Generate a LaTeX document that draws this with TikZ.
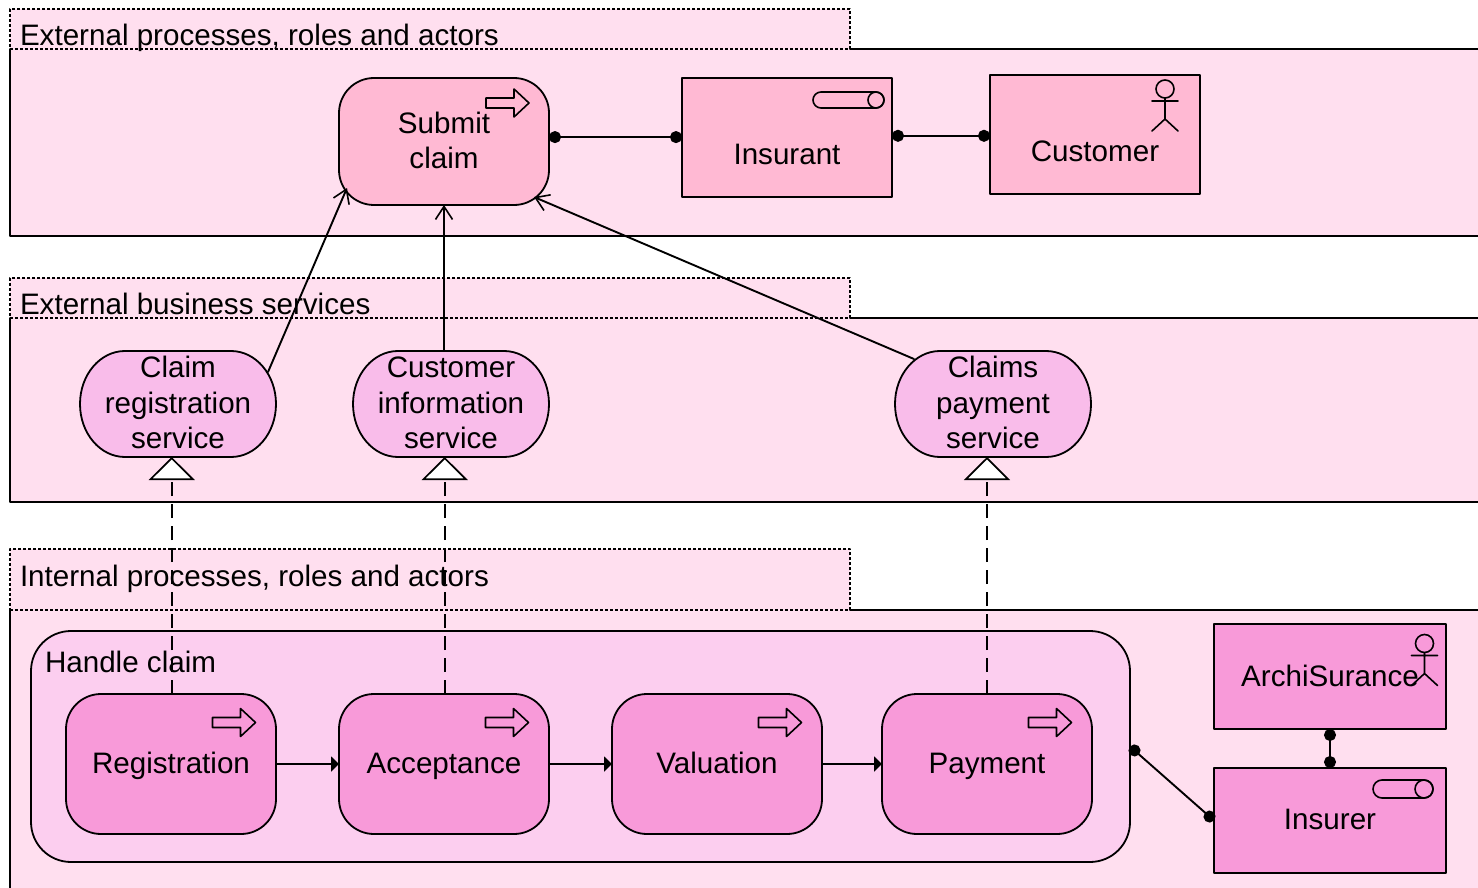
\documentclass[tikz,border=0pt]{standalone}
\usepackage{fontspec}
\setmainfont{Liberation Sans}
\usetikzlibrary{arrows.meta}
\definecolor{layerpink}{HTML}{FFDFEF}
\definecolor{extpink}{HTML}{FFB9D3}
\definecolor{svcpink}{HTML}{F9BCEA}
\definecolor{groupink}{HTML}{FCCEEF}
\definecolor{intpink}{HTML}{F89AD9}
\tikzset{
    txt/.style={inner sep=0pt,outer sep=0pt,align=center,font=\fontsize{29.6}{35.5}\selectfont},
    oneline/.style={text height=26pt,text depth=8pt},
    layerbox/.style={fill=layerpink,inner sep=0pt,outer sep=0pt,minimum width=1470pt},
    tabbox/.style={fill=layerpink,draw=black,line width=1.5pt,dash pattern=on 3pt off 2pt,line cap=butt,inner sep=0pt,outer sep=0pt,minimum width=840pt},
    proc/.style={txt,draw=black,line width=1.8pt,rounded corners=35pt,minimum width=210pt},
    svc/.style={inner sep=0pt,outer sep=0pt,minimum width=196pt,minimum height=106pt},
    rolebox/.style={draw=black,line width=1.8pt,inner sep=0pt,outer sep=0pt},
    edge/.style={draw=black,line width=1.9pt},
    icon/.style={draw=black,line width=1.6pt},
    assign/.style={edge,{Circle[length=12pt,width=12pt]}-{Circle[length=12pt,width=12pt]}},
    used/.style={edge,-{Straight Barb[length=13pt,width=17pt,line width=1.6pt]}},
    trigger/.style={edge,-{Triangle[length=8pt,width=15pt]}},
    realise/.style={line width=1.7pt,draw=black,line cap=butt,dash pattern=on 14pt off 8pt,
        -{Triangle[open,fill=white,length=23pt,width=46pt,line width=1.7pt]}},
}
\newcommand{\procarrow}[1]{\draw[icon,shift={(#1)}] (-43,-5) -- (-15,-5) -- (-15,-14) -- (0,0) -- (-15,14) -- (-15,5) -- (-43,5) -- cycle;}
\newcommand{\roleicon}[4]{\draw[icon] (#2-#4,#3-#4) -- (#1+#4,#3-#4) arc (90:270:#4pt) -- (#2-#4,#3+#4) arc (-90:90:#4pt);
    \draw[icon] (#2-#4,#3) circle (#4pt);}
\newcommand{\actoricon}[1]{\draw[icon,shift={(#1)}] (0,0) circle (9pt) (0,9) -- (0,30) (-13,12) -- (13,12) (-13,42) -- (0,30) -- (13,42);}
\newcommand{\svcoutline}[1]{\draw[draw=black,fill=svcpink,line width=1.8pt] ([xshift=45pt]#1.north west) -- ([xshift=-45pt]#1.north east)
    arc [start angle=90,end angle=-90,x radius=45pt,y radius=53pt] -- ([xshift=45pt]#1.south west)
    arc [start angle=-90,end angle=-270,x radius=45pt,y radius=53pt] -- cycle;}
\begin{document}
\begin{tikzpicture}
    [line cap=round,line join=round,x=1pt,y=-1pt]
    \path[use as bounding box,clip] (0,0) rectangle (1478,888);
%layers
    \node[layerbox,minimum height=187pt] (boxtop) at (745,142.5) {};
    \node[layerbox,minimum height=184pt] (boxmid) at (745,410) {};
    \node[layerbox,minimum height=290pt] (boxlow) at (745,755) {};
    \node[tabbox,minimum height=40pt] (tabtop) at (430,29) {};
    \node[tabbox,minimum height=40pt] (tabmid) at (430,298) {};
    \node[tabbox,minimum height=61pt] (tablow) at (430,579.5) {};
    \draw[edge] (tabtop.south east) -- (boxtop.north east) -- (boxtop.south east) -- (boxtop.south west) -- (boxtop.north west);
    \draw[edge] (tabmid.south east) -- (boxmid.north east) -- (boxmid.south east) -- (boxmid.south west) -- (boxmid.north west);
    \draw[edge] (tablow.south east) -- (boxlow.north east) -- (boxlow.south east) -- (boxlow.south west) -- (boxlow.north west);
    \node[txt,anchor=base west] (titletop) at (20,45.5) {External processes, roles and actors};
    \node[txt,anchor=base west] (titlemid) at (20,314) {External business services};
    \node[txt,anchor=base west] (titlelow) at (20,586) {Internal processes, roles and actors};
%top row
    \node[proc,fill=extpink,minimum height=127pt] (submit) at (444,141.5) {};
    \node[txt] (submittxt) at (444,140.5) {Submit\\claim};
    \node[rolebox,fill=extpink,minimum width=210pt,minimum height=119pt] (insurant) at (787,137.5) {};
    \node[txt] (insuranttxt) at (787,154) {Insurant};
    \node[rolebox,fill=extpink,minimum width=210pt,minimum height=119pt] (customer) at (1095,134.5) {};
    \node[txt] (customertxt) at (1095,151) {Customer};
    \procarrow{529,103}
    \roleicon{813}{884}{100}{8}
    \actoricon{1165,89}
%services
    \node[svc] (regsvc) at (178,404) {};
    \svcoutline{regsvc}
    \node[txt] (regsvctxt) at (178,402.5) {Claim\\registration\\service};
    \node[svc] (infosvc) at (451,404) {};
    \svcoutline{infosvc}
    \node[txt] (infosvctxt) at (451,403) {Customer\\information\\service};
    \node[svc] (paysvc) at (993,404) {};
    \svcoutline{paysvc}
    \node[txt] (paysvctxt) at (993,402.5) {Claims\\payment\\service};
%internal row
    \node[txt,draw=black,fill=groupink,line width=1.8pt,rounded corners=40pt,minimum width=1099pt,minimum height=231pt] (handle) at (580.5,746.5) {};
    \node[txt,anchor=base west] (handletxt) at (45,672) {Handle claim};
    \node[proc,oneline,fill=intpink,minimum height=140pt] (registration) at (171,764) {Registration};
    \node[proc,oneline,fill=intpink,minimum height=140pt] (acceptance) at (444,764) {Acceptance};
    \node[proc,oneline,fill=intpink,minimum height=140pt] (valuation) at (717,764) {Valuation};
    \node[proc,oneline,fill=intpink,minimum height=140pt] (payment) at (987,764) {Payment};
    \procarrow{255.5,722.5}
    \procarrow{528.5,722.5}
    \procarrow{801.5,722.5}
    \procarrow{1071.5,722.5}
    \node[rolebox,fill=intpink,minimum width=232pt,minimum height=105pt] (archi) at (1330,676.5) {};
    \node[txt] (architxt) at (1330,676) {ArchiSurance};
    \node[rolebox,fill=intpink,minimum width=232pt,minimum height=105pt] (insurer) at (1330,820.5) {};
    \node[txt] (insurertxt) at (1330,819) {Insurer};
    \actoricon{1424.5,643.5}
    \roleicon{1373}{1433}{789}{9}
%connectors
    \coordinate (regout) at (268,372);
    \coordinate (submitleft) at (347,188);
    \coordinate (payout) at (914,359);
    \coordinate (submitright) at (534,197);
    \draw[used] (regout) -- (submitleft);
    \draw[used] (submit.south |- infosvc.north) -- (submit.south);
    \draw[used] (payout) -- (submitright);
    \draw[assign] ([yshift=0.4pt]submit.east |- insurant.west) -- ([yshift=0.4pt]insurant.west);
    \draw[assign] ([yshift=-1.3pt]insurant.east |- customer.west) -- ([yshift=-1.3pt]customer.west);
    \draw[assign] (handle.east) -- (insurer.west);
    \draw[assign] (archi.south) -- (insurer.north);
    \draw[trigger] (registration) -- (acceptance);
    \draw[trigger] (acceptance) -- (valuation);
    \draw[trigger] (valuation) -- (payment);
    \draw[realise] ([xshift=0.7pt]registration.north) -- ([xshift=0.7pt]registration.north |- regsvc.south);
    \draw[realise] ([xshift=0.7pt]acceptance.north) -- ([xshift=0.7pt]acceptance.north |- infosvc.south);
    \draw[realise] (payment.north) -- (payment.north |- paysvc.south);
\end{tikzpicture}
\end{document}
